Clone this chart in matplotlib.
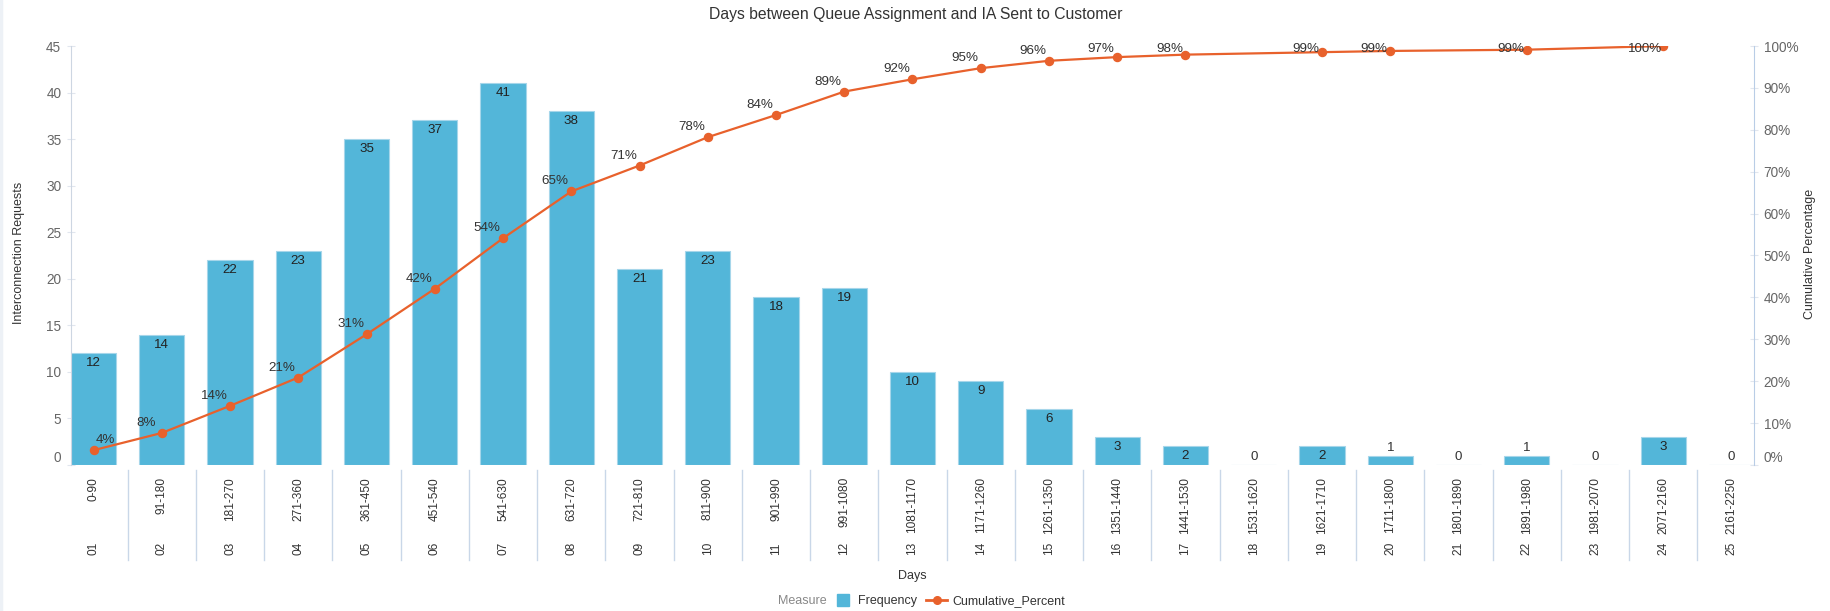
import numpy as np
import matplotlib
matplotlib.use("Agg")
import matplotlib.pyplot as plt
from matplotlib.lines import Line2D

plt.rcParams['font.family'] = ['Liberation Sans', 'DejaVu Sans']

# ---- data ----
index_labels = ["01", "02", "03", "04", "05", "06", "07", "08", "09", "10",
                "11", "12", "13", "14", "15", "16", "17", "18", "19", "20",
                "21", "22", "23", "24", "25"]
range_labels = ["0-90", "91-180", "181-270", "271-360", "361-450", "451-540",
                "541-630", "631-720", "721-810", "811-900", "901-990", "991-1080",
                "1081-1170", "1171-1260", "1261-1350", "1351-1440", "1441-1530",
                "1531-1620", "1621-1710", "1711-1800", "1801-1890", "1891-1980",
                "1981-2070", "2071-2160", "2161-2250"]
frequency = [12, 14, 22, 23, 35, 37, 41, 38, 21, 23, 18, 19, 10, 9, 6, 3, 2, 0,
             2, 1, 0, 1, 0, 3, 0]
cumulative_percent = [3.53, 7.65, 14.12, 20.88, 31.18, 42.06, 54.12, 65.29, 71.47,
                      78.24, 83.53, 89.12, 92.06, 94.71, 96.47, 97.35, 97.94, np.nan,
                      98.53, 98.82, np.nan, 99.12, np.nan, 100.0, np.nan]
left_ticks = [0, 5, 10, 15, 20, 25, 30, 35, 40, 45]
right_ticks = [0, 10, 20, 30, 40, 50, 60, 70, 80, 90, 100]

BAR = '#53b6d9'
LINE = '#e8612c'
W, H = 1831, 611
FS = 9.6
CFS = 8.6

fig = plt.figure(figsize=(W / 100, H / 100), dpi=100)
ax_l, ax_r, ax_t, ax_b = 71, 1754, 46, 465
ax = fig.add_axes([ax_l / W, 1 - ax_b / H, (ax_r - ax_l) / W, (ax_b - ax_t) / H])
ax2 = ax.twinx()

x = np.arange(len(frequency))
ax.bar(x, frequency, width=0.66, color=BAR, edgecolor='#a6d6ea', linewidth=0.8, zorder=2)
ax.set_xlim(-0.33, len(frequency) - 1 + 0.33)
ax.set_ylim(0, 45)
ax.set_yticks(left_ticks)
ax2.set_ylim(0, 100)
ax2.set_yticks(right_ticks)
ax2.set_yticklabels([f"{t}%" for t in right_ticks])
ax.set_xticks([])

for a in (ax, ax2):
    for s in ('top', 'bottom'):
        a.spines[s].set_visible(False)
ax.spines['right'].set_visible(False)
ax2.spines['left'].set_visible(False)
ax.spines['left'].set_color('#cdd6e2')
ax2.spines['right'].set_color('#b9cde6')
ax.tick_params(axis='y', direction='inout', length=6, color='#e1e6ee',
               labelsize=FS + 0.2, labelcolor='#666666', pad=4)
ax2.tick_params(axis='y', direction='inout', length=6, color='#e1e6ee',
                labelsize=FS + 0.2, labelcolor='#666666', pad=4)
ax.get_yticklabels()[0].set_va('bottom')
ax2.get_yticklabels()[0].set_va('bottom')

# bar value labels
for i, v in enumerate(frequency):
    if v >= 2:
        ax.annotate(str(v), (i, v), xytext=(0, -10), textcoords='offset pixels',
                    ha='center', va='center', fontsize=FS, color='#222222', zorder=5)
    else:
        ax.annotate(str(v), (i, v), xytext=(0, 8), textcoords='offset pixels',
                    ha='center', va='center', fontsize=FS, color='#333333', zorder=5)

# cumulative line
cp = np.array(cumulative_percent)
mask = ~np.isnan(cp)
ax2.plot(x[mask], cp[mask], color=LINE, lw=1.6, marker='o', markersize=5.8, zorder=4)
px_per_pct = (ax_b - ax_t) / 100.0
top_limit = 100 - 3.3 / px_per_pct
for i, v in enumerate(cp):
    if np.isnan(v):
        continue
    ylab = min(v + 10 / px_per_pct, top_limit)
    dx = 12 if i == 0 else (-18 if v >= 99.99 else -16)
    ax2.annotate(f"{v:.0f}%", (i, ylab), xytext=(dx, 0), textcoords='offset pixels',
                 ha='center', va='center', fontsize=FS, color='#333333', zorder=6)

# category labels and separators
tr = ax.get_xaxis_transform()
hpx = ax_b - ax_t
for i in range(len(frequency)):
    ax.text(i, -(477 - ax_b) / hpx, range_labels[i], rotation=90, ha='center', va='top',
            fontsize=CFS, color='#333333', transform=tr)
    ax.text(i, -(555 - ax_b) / hpx, index_labels[i], rotation=90, ha='center', va='bottom',
            fontsize=CFS, color='#333333', transform=tr)
for i in range(len(frequency) - 1):
    ax.plot([i + 0.5, i + 0.5], [-(470 - ax_b) / hpx, -(560 - ax_b) / hpx],
            color='#c9d7e8', lw=1, transform=tr, clip_on=False)

# titles
fig.text(916 / W, 1 - 15 / H, "Days between Queue Assignment and IA Sent to Customer",
         ha='center', va='center', fontsize=11.3, color='#333333')
fig.text(19 / W, 1 - 253 / H, "Interconnection Requests", rotation=90,
         ha='center', va='center', fontsize=9, color='#333333')
fig.text(1810 / W, 1 - 254 / H, "Cumulative Percentage", rotation=90,
         ha='center', va='center', fontsize=9, color='#333333')
fig.text(912 / W, 1 - 576 / H, "Days", ha='center', va='center', fontsize=9,
         color='#333333')

# legend
fig.text(778 / W, 1 - 601 / H, "Measure", ha='left', va='center', fontsize=9,
         color='#888888')
handles = [Line2D([], [], ls='none', marker='s', markersize=9, color=BAR),
           Line2D([], [], color=LINE, lw=2, marker='o', markersize=5.5)]
fig.legend(handles, ["Frequency", "Cumulative_Percent"], loc='center left',
           bbox_to_anchor=(832 / W, 1 - 601 / H), ncol=2, frameon=False,
           fontsize=9, handlelength=1.7, handletextpad=0.4, columnspacing=0.7,
           borderpad=0, borderaxespad=0, labelcolor='#333333')

fig.add_artist(Line2D([1.5 / W, 1.5 / W], [0, 1], transform=fig.transFigure,
                      color='#edf1f6', lw=2.5))

fig.savefig("out.png", dpi=100, facecolor='white')
